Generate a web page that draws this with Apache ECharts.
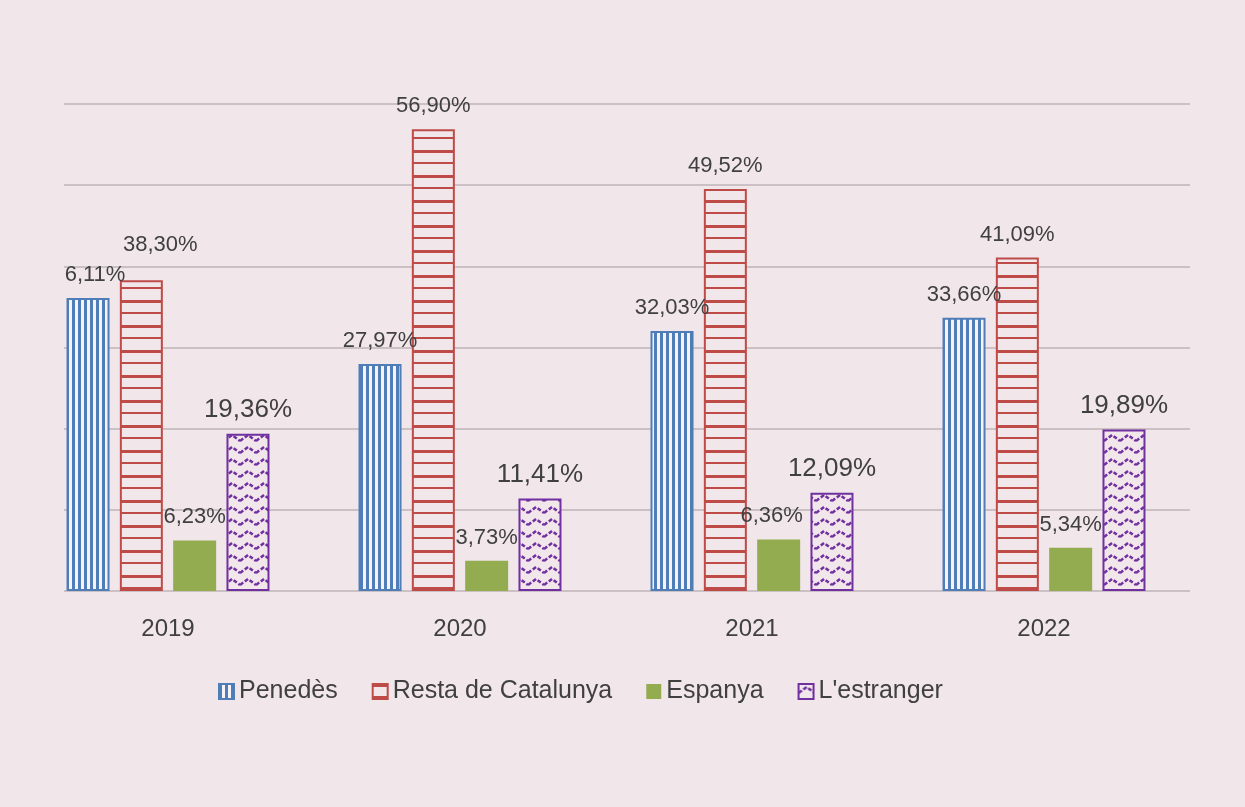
<!DOCTYPE html>
<html lang="ca">
<head>
    <meta charset="UTF-8">
    <title>Procedència</title>
    <style>
        *{ margin: 0; padding: 0;}
        body{ background: #f1e6ea;}
        #chart{ width: 1245px; height: 807px;}
    </style>
    <script src="https://cdn.jsdelivr.net/npm/echarts@6/dist/echarts.min.js"></script>
</head>
<body>
    <div id="chart"></div>
    <script>
        // dades
        var years = ['2019', '2020', '2021', '2022'];
        var seriesNames = ['Penedès', 'Resta de Catalunya', 'Espanya', "L'estranger"];
        var penedes = [36.11, 27.97, 32.03, 33.66];
        var resta = [38.30, 56.90, 49.52, 41.09];
        var espanya = [6.23, 3.73, 6.36, 5.34];
        var estranger = [19.36, 11.41, 12.09, 19.89];
        var penedesLabels = ['6,11%', '27,97%', '32,03%', '33,66%'];
        var restaLabels = ['38,30%', '56,90%', '49,52%', '41,09%'];
        var espanyaLabels = ['6,23%', '3,73%', '6,36%', '5,34%'];
        var estrangerLabels = ['19,36%', '11,41%', '12,09%', '19,89%'];

        var textColor = '#404040';
        var font = '"Liberation Sans", Arial, sans-serif';

        // trames
        function makeCanvas(w, h) {
            var c = document.createElement('canvas');
            c.width = w;
            c.height = h;
            return c;
        }
        function vertPattern() {
            var c = makeCanvas(6, 6);
            var ctx = c.getContext('2d');
            ctx.fillStyle = '#f7f3f5';
            ctx.fillRect(0, 0, 6, 6);
            ctx.fillStyle = '#4f7db8';
            ctx.fillRect(0, 0, 3, 6);
            return c;
        }
        function horizPattern() {
            var c = makeCanvas(8, 25);
            var ctx = c.getContext('2d');
            ctx.fillStyle = '#f1e6ea';
            ctx.fillRect(0, 0, 8, 25);
            ctx.fillStyle = '#be4b48';
            ctx.fillRect(0, 0, 8, 3);
            ctx.fillRect(0, 12, 8, 2);
            return c;
        }
        function wavePattern() {
            var c = makeCanvas(16, 12);
            var ctx = c.getContext('2d');
            ctx.fillStyle = '#f1e6ea';
            ctx.fillRect(0, 0, 16, 12);
            // ziga-zaga puntejada
            ctx.strokeStyle = '#7030a0';
            ctx.lineWidth = 2.5;
            ctx.setLineDash([4, 2]);
            ctx.beginPath();
            ctx.moveTo(0, 9);
            ctx.lineTo(8, 3);
            ctx.lineTo(16, 9);
            ctx.stroke();
            return c;
        }

        function labelCfg(labels, size, dist) {
            return {
                show: true,
                position: 'top',
                distance: dist,
                color: textColor,
                fontFamily: font,
                fontSize: size,
                formatter: function (p) { return labels[p.dataIndex]; }
            };
        }

        var myChart = echarts.init(document.getElementById('chart'));
        var option = {
            backgroundColor: '#f1e6ea',
            animation: false,
            grid: [
                { left: 64, right: 55, top: 104, bottom: 216 },
                { left: 22, right: 55, top: 104, bottom: 216 }
            ],
            xAxis: [
                { type: 'category', gridIndex: 0, data: years, show: false },
                {
                    type: 'category', gridIndex: 1, data: years,
                    axisLine: { show: false },
                    axisTick: { show: false },
                    axisLabel: { color: textColor, fontFamily: font, fontSize: 24, margin: 26 }
                }
            ],
            yAxis: [
                {
                    type: 'value', gridIndex: 0, min: 0, max: 60, interval: 10,
                    axisLabel: { show: false },
                    axisLine: { show: false },
                    axisTick: { show: false },
                    splitLine: { lineStyle: { color: '#cbc1c5', width: 2 } }
                },
                {
                    type: 'value', gridIndex: 1, min: 0, max: 60, interval: 10,
                    show: false,
                    splitLine: { show: false }
                }
            ],
            legend: {
                left: 213,
                top: 674,
                itemWidth: 15,
                itemHeight: 15,
                itemGap: 34,
                icon: 'rect',
                textStyle: { color: textColor, fontFamily: font, fontSize: 25 },
                data: seriesNames
            },
            series: [
                {
                    name: seriesNames[0], type: 'bar', xAxisIndex: 1, yAxisIndex: 1,
                    barWidth: 43, barGap: '24%',
                    itemStyle: { color: { image: vertPattern(), repeat: 'repeat' }, borderColor: '#4f7db8', borderWidth: 2 },
                    label: labelCfg(penedesLabels, 22, 12),
                    data: penedes.map(function (v, i) {
                        return i === 0 ? { value: v, label: { offset: [7, 0] } } : v;
                    })
                },
                {
                    name: seriesNames[1], type: 'bar', xAxisIndex: 1, yAxisIndex: 1,
                    barWidth: 43, barGap: '24%',
                    itemStyle: { color: { image: horizPattern(), repeat: 'repeat' }, borderColor: '#be4b48', borderWidth: 2 },
                    label: labelCfg(restaLabels, 22, 12),
                    data: resta.map(function (v, i) {
                        return i === 0 ? { value: v, label: { offset: [19, -12] } } : v;
                    })
                },
                {
                    name: seriesNames[2], type: 'bar', xAxisIndex: 1, yAxisIndex: 1,
                    barWidth: 43, barGap: '24%',
                    itemStyle: { color: '#94ac50' },
                    label: labelCfg(espanyaLabels, 22, 12),
                    data: espanya.map(function (v, i) {
                        return i === 2 ? { value: v, label: { offset: [-7, 0] } } : v;
                    })
                },
                {
                    name: seriesNames[3], type: 'bar', xAxisIndex: 1, yAxisIndex: 1,
                    barWidth: 43, barGap: '24%',
                    itemStyle: { color: { image: wavePattern(), repeat: 'repeat' }, borderColor: '#7030a0', borderWidth: 2 },
                    label: labelCfg(estrangerLabels, 26, 11),
                    data: estranger
                }
            ]
        };
        myChart.setOption(option);
    </script>
</body>
</html>
